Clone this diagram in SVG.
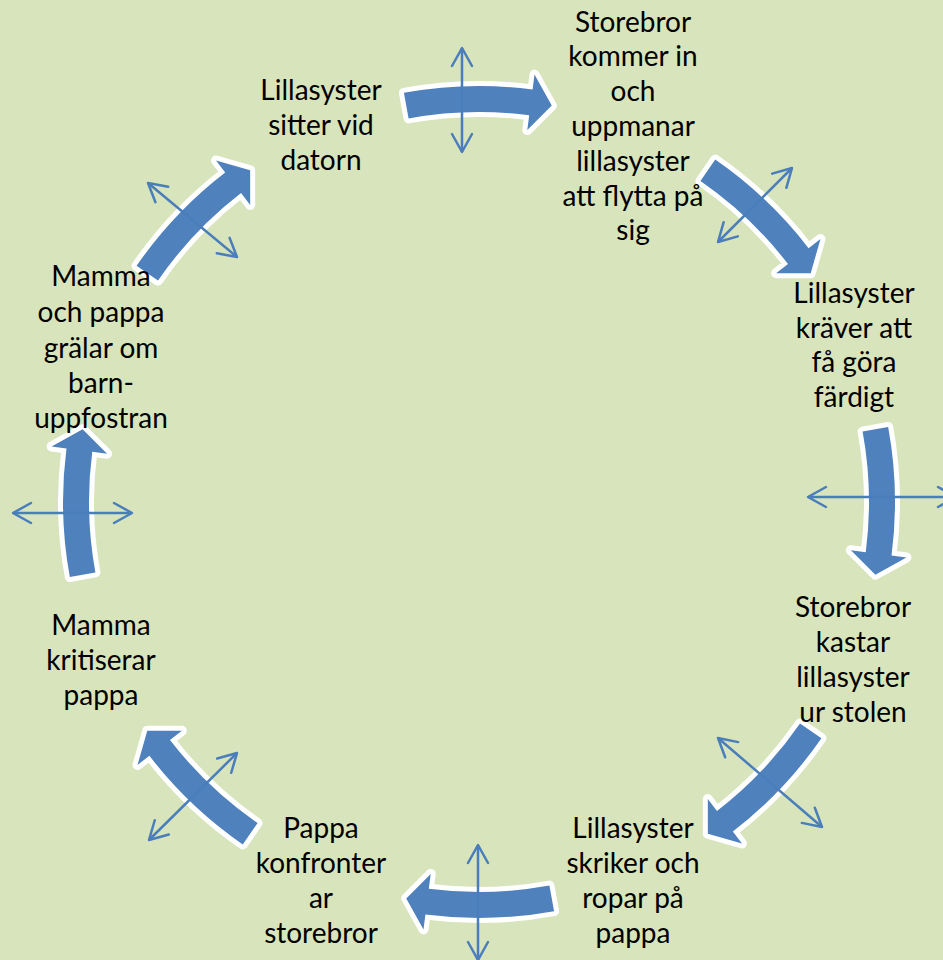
<svg xmlns="http://www.w3.org/2000/svg" width="943" height="960" viewBox="0 0 943 960">
<style>
.bg{fill:#D8E4BC}
.ba{fill:#4F81BD;stroke:#FFFFFF;stroke-width:10;stroke-linejoin:round;paint-order:stroke}
.da{fill:none;stroke:#4A7EBB;stroke-width:2.5;marker-start:url(#oh);marker-end:url(#oh)}
.t{font-family:Lato,"Liberation Sans",sans-serif;font-size:28px;fill:#000000;text-anchor:middle}
</style>
<defs>
<path id="barrow" d="M-75.10,-409.17 A416,416 0 0 1 53.58,-412.53 L55.51,-427.41 L72.75,-396.38 L48.30,-371.88 L50.23,-386.75 A390,390 0 0 0 -70.40,-383.59 Z"/>
<marker id="oh" markerUnits="userSpaceOnUse" orient="auto-start-reverse" refX="0" refY="0" markerWidth="30" markerHeight="30" viewBox="-25 -15 30 30" overflow="visible">
<path d="M-18,-10 L0,0 L-18,10" fill="none" stroke="#4A7EBB" stroke-width="2.5" stroke-linecap="round" stroke-linejoin="round"/>
</marker>
</defs>
<rect class="bg" x="0" y="0" width="943" height="960"/>
<g id="connectors">
<use href="#barrow" class="ba" transform="translate(479,502) rotate(0)"/>
<use href="#barrow" class="ba" transform="translate(479,502) rotate(45)"/>
<use href="#barrow" class="ba" transform="translate(479,502) rotate(90)"/>
<use href="#barrow" class="ba" transform="translate(479,502) rotate(135)"/>
<use href="#barrow" class="ba" transform="translate(479,502) rotate(180)"/>
<use href="#barrow" class="ba" transform="translate(479,502) rotate(225)"/>
<use href="#barrow" class="ba" transform="translate(479,502) rotate(270)"/>
<use href="#barrow" class="ba" transform="translate(479,502) rotate(315)"/>
<line class="da" x1="462" y1="48" x2="462" y2="152"/>
<line class="da" x1="718" y1="242" x2="792" y2="168"/>
<line class="da" x1="808" y1="497" x2="956" y2="497"/>
<line class="da" x1="718" y1="738" x2="822" y2="827"/>
<line class="da" x1="478" y1="845" x2="478" y2="960"/>
<line class="da" x1="237" y1="753" x2="149" y2="840"/>
<line class="da" x1="13" y1="513" x2="132" y2="513"/>
<line class="da" x1="148" y1="183" x2="237" y2="257"/>
</g>
<g id="n1"><text class="t" x="321" y="100">Lillasyster</text><text class="t" x="321" y="135">sitter vid</text><text class="t" x="321" y="170">datorn</text></g>
<g id="n2"><text class="t" x="633" y="32">Storebror</text><text class="t" x="633" y="66">kommer in</text><text class="t" x="633" y="101">och</text><text class="t" x="633" y="136">uppmanar</text><text class="t" x="633" y="171">lillasyster</text><text class="t" x="633" y="206">att flytta på</text><text class="t" x="633" y="240">sig</text></g>
<g id="n3"><text class="t" x="854" y="303">Lillasyster</text><text class="t" x="854" y="338">kräver att</text><text class="t" x="854" y="372">få göra</text><text class="t" x="854" y="407">färdigt</text></g>
<g id="n4"><text class="t" x="853" y="617">Storebror</text><text class="t" x="853" y="652">kastar</text><text class="t" x="853" y="687">lillasyster</text><text class="t" x="853" y="722">ur stolen</text></g>
<g id="n5"><text class="t" x="633" y="838">Lillasyster</text><text class="t" x="633" y="873">skriker och</text><text class="t" x="633" y="908">ropar på</text><text class="t" x="633" y="943">pappa</text></g>
<g id="n6"><text class="t" x="321" y="838">Pappa</text><text class="t" x="321" y="873">konfronter</text><text class="t" x="321" y="908">ar</text><text class="t" x="321" y="943">storebror</text></g>
<g id="n7"><text class="t" x="101" y="635">Mamma</text><text class="t" x="101" y="670">kritiserar</text><text class="t" x="101" y="705">pappa</text></g>
<g id="n8"><text class="t" x="101" y="286">Mamma</text><text class="t" x="101" y="322">och pappa</text><text class="t" x="101" y="358">grälar om</text><text class="t" x="101" y="393">barn-</text><text class="t" x="101" y="428">uppfostran</text></g>
</svg>
